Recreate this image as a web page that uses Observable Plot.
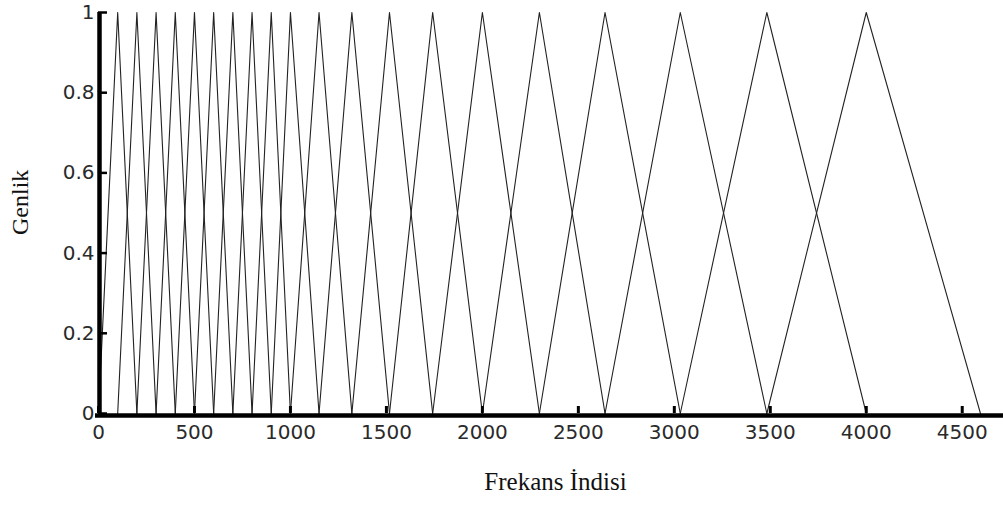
<!DOCTYPE html>
<html><head><meta charset="utf-8">
<script src="https://cdn.jsdelivr.net/npm/d3@7"></script>
<script src="https://cdn.jsdelivr.net/npm/@observablehq/plot@0.6"></script>
<style>body{margin:0;background:#fff} svg{display:block}</style>
</head><body><div id="chart"></div>
<script>
// Filter edge / center frequencies (each triangle spans edges[i-1] .. edges[i] .. edges[i+1])
const filterEdges = [0,100,200,300,400,500,600,700,800,900,1000,1149,1320,1516,1741,2000,2297,2639,3031,3482,4000,4595];
const xTicks = [0,500,1000,1500,2000,2500,3000,3500,4000,4500];
const yTicks = [0,0.2,0.4,0.6,0.8,1];
const xLabel = "Frekans İndisi";
const yLabel = "Genlik";

const pts = [];
for (let i = 1; i < filterEdges.length - 1; i++) {
  pts.push({f: i, x: filterEdges[i - 1], y: 0});
  pts.push({f: i, x: filterEdges[i], y: 1});
  pts.push({f: i, x: filterEdges[i + 1], y: 0});
}

const tickFont = "DejaVu Sans";
const fmt = d => String(d);
const chart = Plot.plot({
  width: 1003,
  height: 506,
  marginLeft: 98,
  marginRight: 0,
  marginTop: 12,
  marginBottom: 93,
  style: {background: "#fff"},
  x: {domain: [0, 4715]},
  y: {domain: [0, 1]},
  marks: [
    Plot.line(pts, {x: "x", y: "y", z: "f", stroke: "#222", strokeWidth: 1.1}),
    Plot.ruleX([0], {stroke: "#000", strokeWidth: 4.5, dx: 1}),
    Plot.ruleY([0], {stroke: "#000", strokeWidth: 4.5, dy: 2, insetLeft: -3}),
    Plot.axisX(xTicks, {tickSize: 7, dy: -7, strokeWidth: 3, stroke: "#000", text: null, label: null}),
    Plot.axisX(xTicks, {tickSize: 0, tickPadding: 11, tickFormat: fmt, fontSize: 20, fontFamily: tickFont, fill: "#2a2a2a", label: null}),
    Plot.axisY(yTicks, {tickSize: 9, dx: 9, strokeWidth: 2.5, stroke: "#000", text: null, label: null}),
    Plot.axisY(yTicks, {tickSize: 0, tickPadding: 4, tickFormat: fmt, fontSize: 20, fontFamily: tickFont, fill: "#2a2a2a", label: null}),
    Plot.text([xLabel], {frameAnchor: "bottom", dx: 4.5, dy: 76, fontSize: 25, fontFamily: "Liberation Serif", fill: "#111"}),
    Plot.text([yLabel], {frameAnchor: "left", rotate: -90, dx: -78.5, dy: 22, fontSize: 24, fontFamily: "Liberation Serif", fill: "#111"})
  ]
});
document.getElementById("chart").appendChild(chart);
</script>
</body></html>
